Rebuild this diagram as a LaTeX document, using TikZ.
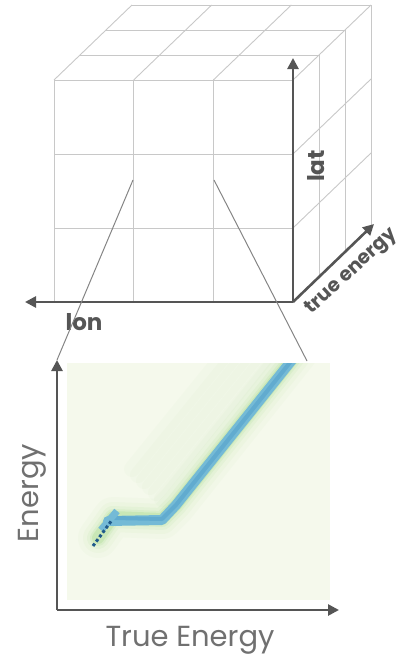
\documentclass[tikz,border=0pt]{standalone}
\usepackage{fontspec}
\setmainfont{Poppins}
\usetikzlibrary{positioning,arrows.meta,calc}
\definecolor{gridgray}{HTML}{C8C8C8}
\definecolor{axisgray}{HTML}{555555}
\definecolor{zoomgray}{HTML}{858585}
\definecolor{labgray}{HTML}{707070}
\definecolor{heatbg}{HTML}{F5F9EC}
\definecolor{heatgreen}{HTML}{9CD67E}
\definecolor{heatblue}{HTML}{74BAD6}
\definecolor{heatmid}{HTML}{55A2CB}
\definecolor{heatdark}{HTML}{1F5A8A}
\tikzset{
  gridline/.style={draw=gridgray,line width=0.9pt},
  axis/.style={draw=axisgray,line width=2.6pt,-{Triangle[length=11pt,width=11pt]}},
  zoomline/.style={draw=zoomgray,line width=1pt},
  cubelab/.style={font=\bfseries\fontsize{23}{23}\selectfont,text=axisgray,inner sep=1pt},
  plotlab/.style={font=\fontsize{29}{29}\selectfont,text=labgray,inner sep=1pt},
  heat/.style={fill=heatbg,minimum width=263pt,minimum height=237pt,inner sep=0pt,anchor=north west},
  band/.style={line join=round,line cap=round}
}
\begin{document}
\begin{tikzpicture}[x=1pt,y=-1pt]
\useasboundingbox (0,0) rectangle (410,659);
% cube, drawn in pixels
\coordinate (o) at (293,302);
\coordinate (ftl) at (54,80);
% front face
\foreach \i in {0,1,2,3}
  \draw[gridline] ($(ftl)+(79.67*\i,0)$) -- ++(0,222);
\foreach \j in {0,1,2}
  \draw[gridline] ($(ftl)+(0,74*\j)$) -- ++(239,0);
% top face
\foreach \i in {0,1,2,3}
  \draw[gridline] ($(ftl)+(79.67*\i,0)$) -- ++(78,-75);
\foreach \k in {1,2,3}
  \draw[gridline] ($(ftl)+(26*\k,-25*\k)$) -- ++(239,0);
% right face
\foreach \j in {1,2}
  \draw[gridline] ($(ftl)+(239,74*\j)$) -- ++(78,-75);
\foreach \k in {1,2,3}
  \draw[gridline] ($(ftl)+(239+26*\k,-25*\k)$) -- ++(0,222);
% axes of the cube
\coordinate (lontip) at (25,302);
\coordinate (lattip) at (293,58);
\coordinate (etip) at (374,224);
\draw[axis] (o) -- (lontip);
\draw[axis] (o) -- (lattip);
\draw[axis] (o) -- (etip);
\node[cubelab] (lon) at (84,322) {lon};
\node[cubelab,rotate=90] (lat) at (316,166) {lat};
\node[cubelab,font=\bfseries\fontsize{19.5}{20}\selectfont,rotate=42.5] (te) at (352,272) {true energy};
% heat map
\node[heat] (hm) at (67,363) {};
\begin{scope}
  \clip (hm.north west) rectangle (hm.south east);
  \foreach \s in {6,12,18,24,30,36}
    \draw[band,heatgreen,opacity=0.035,line width=16pt]
      (168-\s,505-\s) -- (292-\s,352-\s);
  \foreach \w/\op in {40/0.04,30/0.06,22/0.09,16/0.14,12/0.25}
    \draw[band,heatgreen,opacity=\op,line width=\w pt]
      (98,538) -- (113,517) -- (162,519) -- (176,505) -- (298,352);
  \draw[band,heatblue,line width=10pt]
    (108,521) -- (162,520) -- (176,505) -- (296,355);
  \draw[band,heatmid,line width=4pt,opacity=0.6]
    (114,518) -- (162,519) -- (176,505) -- (296,355);
  \draw[heatblue,line width=7pt] (101,530) -- (117,511);
  \draw[heatdark,line width=3pt,dash pattern=on 3pt off 2.5pt]
    (93,546) -- (112,520);
\end{scope}
% axes of the plot
\coordinate (po) at (57,610);
\coordinate (ytip) at (57,360);
\coordinate (xtip) at (339,610);
\draw[axis] (po) -- (ytip);
\draw[axis] (po) -- (xtip);
\node[plotlab,rotate=90] (ylab) at (32,493) {Energy};
\node[plotlab] (xlab) at (190,640) {True Energy};
% zoom lines
\coordinate (za) at (133,180);
\coordinate (zb) at (214,180);
\coordinate (zc) at (307,361);
\draw[zoomline] (za) -- (ytip);
\draw[zoomline] (zb) -- (zc);
\end{tikzpicture}
\end{document}
